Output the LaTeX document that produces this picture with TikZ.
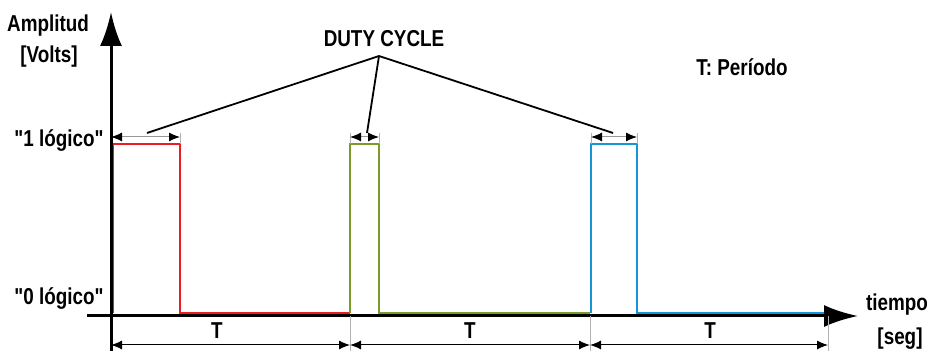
\documentclass[tikz,border=0pt]{standalone}
\usepackage{fontspec}
\setmainfont{Liberation Sans}[Ligatures=TeXOff,FakeStretch=0.82]
\usetikzlibrary{arrows.meta}
\definecolor{pwmred}{RGB}{237,28,36}
\definecolor{pwmgreen}{RGB}{122,155,42}
\definecolor{pwmblue}{RGB}{20,150,215}

\begin{document}
\begin{tikzpicture}[x=0.5pt,y=-0.5pt,>=Latex,
  lbl/.style={font=\bfseries\fontsize{11.5}{13}\selectfont,inner sep=0pt},
  axis/.style={line width=1.5pt,-{Latex[length=17pt,width=11pt]}},
  dimarrow/.style={gray!80,line width=0.5pt,{Latex[black,length=5.5pt,width=4.5pt]}-{Latex[black,length=5.5pt,width=4.5pt]}},
  tickline/.style={gray!60,line width=0.4pt},
  pulse/.style={line width=1pt},
  pointer/.style={line width=0.9pt}]
  \useasboundingbox (0,0) rectangle (931,351);
  % pulses: rise / fall / end of period
  \foreach \i/\a/\b/\c/\col in {1/113/180/350/pwmred,2/350/379/590/pwmgreen,3/591/637/828/pwmblue} {
    \draw[pulse,\col] (\a,313) -- (\a,144) -- (\b,144) -- (\b,313) -- (\c,313);
    \coordinate (dl\i) at (\a,137);
    \coordinate (dr\i) at (\b,137);
    \draw[tickline] (\b,133) -- (\b,144);
  }
  \draw[tickline] (350,133) -- (350,144);
  \draw[tickline] (591,133) -- (591,144);
  \coordinate (dl1) at (111,137);
  \foreach \i in {1,2,3}
    \draw[dimarrow] (dl\i) -- (dr\i);
  % axes
  \coordinate (ybot) at (111,352);
  \coordinate (ytop) at (111,12);
  \coordinate (xleft) at (87,316);
  \coordinate (xright) at (858,316);
  \draw[axis] (ybot) -- (ytop);
  \draw[axis] (xleft) -- (xright);
  % periods
  \foreach \i/\x in {0/111,1/350,2/590,3/828}
    \coordinate (p\i) at (\x,345);
  \foreach \x in {350,590,828}
    \draw[tickline] (\x,316) -- (\x,351);
  \foreach \i/\j/\tx in {0/1/217,1/2/470,2/3/710} {
    \draw[dimarrow,black] (p\i) -- (p\j);
    \node[lbl] (t\j) at (\tx,331) {T};
  }
  % duty cycle pointers
  \node[lbl] (duty) at (384,39) {DUTY CYCLE};
  \coordinate (apex) at (379,56);
  \coordinate (m1) at (147,133);
  \coordinate (m2) at (367,133);
  \coordinate (m3) at (613,133);
  \foreach \i in {1,2,3}
    \draw[pointer] (apex) -- (m\i);
  % labels
  \node[lbl] (amp) at (48,26) {Amplitud};
  \node[lbl] (volts) at (49,57) {[Volts]};
  \node[lbl,anchor=east] (high) at (104,141) {"1 lógico"};
  \node[lbl,anchor=east] (low) at (104,299) {"0 lógico"};
  \node[lbl] (period) at (742,67) {T: Período};
  \node[lbl] (time) at (897,305) {tiempo};
  \node[lbl] (sec) at (900,339) {[seg]};
\end{tikzpicture}
\end{document}
